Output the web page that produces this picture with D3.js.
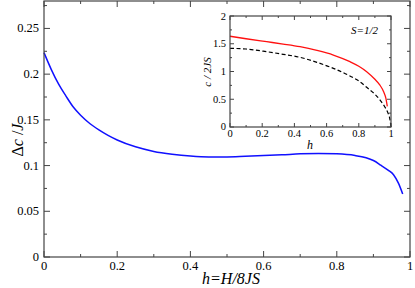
<!DOCTYPE html>
<html>
<head>
<meta charset="utf-8">
<script src="https://cdn.jsdelivr.net/npm/d3@7"></script>
<style>
  body { margin: 0; background: #fff; }
</style>
</head>
<body>
<svg id="chart" width="415" height="288" font-family="'Liberation Serif', 'DejaVu Serif', serif"></svg>
<script>
// main curve: gap difference vs reduced field
const mainH = [0, 0.02, 0.04, 0.06, 0.08, 0.1, 0.125, 0.15, 0.175, 0.2, 0.25, 0.3, 0.35, 0.4, 0.45, 0.5, 0.55, 0.6, 0.65, 0.7, 0.75, 0.8, 0.85, 0.88, 0.9, 0.92, 0.94, 0.955, 0.968, 0.98];
const mainDc = [0.2235, 0.205, 0.189, 0.176, 0.164, 0.155, 0.146, 0.139, 0.133, 0.128, 0.1205, 0.1155, 0.1125, 0.1105, 0.1095, 0.1095, 0.1102, 0.111, 0.1118, 0.1128, 0.1132, 0.1128, 0.111, 0.1085, 0.1055, 0.1005, 0.095, 0.090, 0.081, 0.069];

// inset curves (S=1/2)
const redH = [0, 0.1, 0.228, 0.33, 0.435, 0.54, 0.642, 0.745, 0.8, 0.849, 0.9, 0.93, 0.955, 0.968, 0.977];
const redC = [1.635, 1.59, 1.537, 1.495, 1.447, 1.38, 1.297, 1.177, 1.095, 0.997, 0.86, 0.76, 0.63, 0.52, 0.37];
const dashH = [0, 0.1, 0.228, 0.33, 0.435, 0.54, 0.642, 0.745, 0.8, 0.849, 0.9, 0.932, 0.96, 0.98, 0.993, 1.0];
const dashC = [1.418, 1.405, 1.357, 1.31, 1.255, 1.165, 1.057, 0.919, 0.83, 0.715, 0.59, 0.486, 0.37, 0.26, 0.14, 0.0];

const mainXTicks = [0, 0.2, 0.4, 0.6, 0.8, 1];
const mainYTicks = [0, 0.05, 0.1, 0.15, 0.2, 0.25];
const insetXTicks = [0, 0.2, 0.4, 0.6, 0.8, 1];
const insetYTicks = [0, 0.5, 1, 1.5, 2];

const svg = d3.select('#chart');
const frameColor = '#444';

// draws inward ticks on all four sides of a box
function frameTicks(g, x, y, xMajor, xMinor, yMajor, yMinor, bigLen, smallLen) {
    const [x0, x1] = x.range();
    const [y0, y1] = y.range(); // y0 bottom, y1 top
    const lines = [];
    xMajor.forEach(v => lines.push([x(v), y0, x(v), y0 - bigLen], [x(v), y1, x(v), y1 + bigLen]));
    xMinor.forEach(v => lines.push([x(v), y0, x(v), y0 - smallLen], [x(v), y1, x(v), y1 + smallLen]));
    yMajor.forEach(v => lines.push([x0, y(v), x0 + bigLen, y(v)], [x1, y(v), x1 - bigLen, y(v)]));
    yMinor.forEach(v => lines.push([x0, y(v), x0 + smallLen, y(v)], [x1, y(v), x1 - smallLen, y(v)]));
    g.selectAll('line.tick').data(lines).enter().append('line')
        .attr('class', 'tick')
        .attr('x1', d => d[0]).attr('y1', d => d[1])
        .attr('x2', d => d[2]).attr('y2', d => d[3])
        .attr('stroke', frameColor).attr('stroke-width', 1);
    g.append('rect')
        .attr('x', x0).attr('y', y1)
        .attr('width', x1 - x0).attr('height', y0 - y1)
        .attr('fill', 'none').attr('stroke', frameColor).attr('stroke-width', 1.2);
}

// ----- main plot -----
const x = d3.scaleLinear().domain([0, 1]).range([44, 410]);
const y = d3.scaleLinear().domain([0, 0.28]).range([257, 1]);

const main = svg.append('g');

const xMinor = d3.range(0.1, 1, 0.2);
const yMinor = d3.range(0.025, 0.28, 0.05);

main.append('path')
    .datum(mainH.map((h, i) => [h, mainDc[i]]))
    .attr('fill', 'none')
    .attr('stroke', '#1010ff')
    .attr('stroke-width', 1.5)
    .attr('d', d3.line().x(d => x(d[0])).y(d => y(d[1])).curve(d3.curveMonotoneX));

frameTicks(main, x, y, mainXTicks, xMinor, mainYTicks, yMinor, 6, 3);

main.selectAll('text.xt').data(mainXTicks).enter().append('text')
    .attr('x', d => x(d)).attr('y', 270)
    .attr('text-anchor', 'middle').attr('font-size', 12.5)
    .text(d => d);
main.selectAll('text.yt').data(mainYTicks).enter().append('text')
    .attr('x', 39).attr('y', d => d === 0 ? 261 : y(d) + 4)
    .attr('text-anchor', 'end').attr('font-size', 12.5)
    .text(d => d);

main.append('text')
    .attr('x', 231).attr('y', 284)
    .attr('text-anchor', 'middle').attr('font-size', 16).attr('font-style', 'italic')
    .text('h=H/8JS');

const yl = main.append('text')
    .attr('transform', 'translate(23,140) rotate(-90)')
    .attr('text-anchor', 'middle').attr('font-size', 16);
yl.append('tspan').text('Δ');
yl.append('tspan').attr('font-style', 'italic').text('c');
yl.append('tspan').text(' /');
yl.append('tspan').attr('font-style', 'italic').text('J');

// ----- inset -----
const ix = d3.scaleLinear().domain([0, 1]).range([230, 391]);
const iy = d3.scaleLinear().domain([0, 2]).range([127, 16]);
const inset = svg.append('g');

inset.append('rect')
    .attr('x', 230).attr('y', 16).attr('width', 161).attr('height', 111)
    .attr('fill', '#fff');

const iline = d3.line().x(d => ix(d[0])).y(d => iy(d[1])).curve(d3.curveMonotoneX);

inset.append('path')
    .datum(dashH.map((h, i) => [h, dashC[i]]))
    .attr('fill', 'none').attr('stroke', '#000').attr('stroke-width', 1.2)
    .attr('stroke-dasharray', '4,2.5')
    .attr('d', iline);

inset.append('path')
    .datum(redH.map((h, i) => [h, redC[i]]))
    .attr('fill', 'none').attr('stroke', '#ff1010').attr('stroke-width', 1.3)
    .attr('d', iline);

frameTicks(inset, ix, iy, insetXTicks, d3.range(0.1, 1, 0.2), insetYTicks, [0.25, 0.75, 1.25, 1.75], 4, 2);

inset.selectAll('text.xt').data(insetXTicks).enter().append('text')
    .attr('x', d => ix(d)).attr('y', 137)
    .attr('text-anchor', 'middle').attr('font-size', 10.5)
    .text(d => d);
inset.selectAll('text.yt').data(insetYTicks).enter().append('text')
    .attr('x', 226).attr('y', d => iy(d) + 3.5 - (d === 0 ? 1 : 0))
    .attr('text-anchor', 'end').attr('font-size', 10.5)
    .text(d => d);

inset.append('text')
    .attr('x', 310).attr('y', 149)
    .attr('text-anchor', 'middle').attr('font-size', 12).attr('font-style', 'italic')
    .text('h');

inset.append('text')
    .attr('transform', 'translate(211,72) rotate(-90)')
    .attr('text-anchor', 'middle').attr('font-size', 11).attr('font-style', 'italic')
    .text('c / 2JS');

inset.append('text')
    .attr('x', 378).attr('y', 34)
    .attr('text-anchor', 'end').attr('font-size', 11).attr('font-style', 'italic')
    .text('S=1/2');
</script>
</body>
</html>
